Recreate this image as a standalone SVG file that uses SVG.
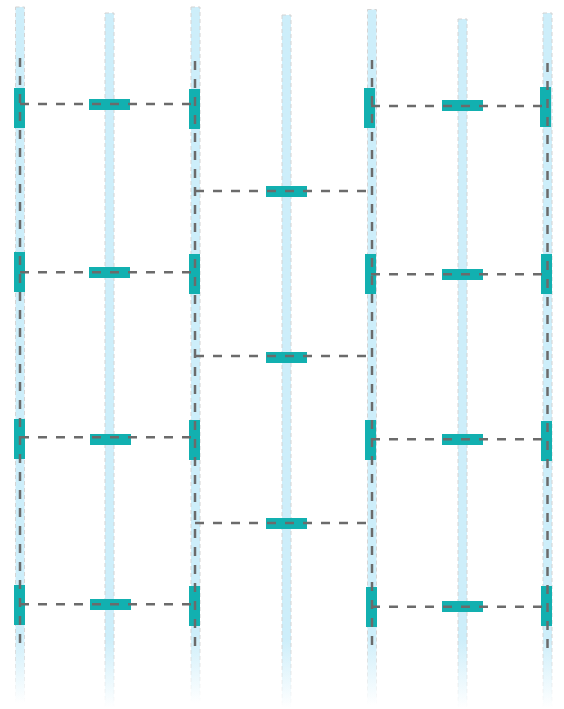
<svg xmlns="http://www.w3.org/2000/svg" width="564" height="709" viewBox="0 0 564 709">
<defs>
<linearGradient id="laneFill" x1="0" y1="0" x2="0" y2="1">
<stop offset="0" stop-color="#cdeefa" stop-opacity="1"/>
<stop offset="0.9" stop-color="#cdeefa" stop-opacity="1"/>
<stop offset="1" stop-color="#cdeefa" stop-opacity="0"/>
</linearGradient>
<linearGradient id="laneStroke" x1="0" y1="0" x2="0" y2="1">
<stop offset="0" stop-color="#d4d4d4" stop-opacity="1"/>
<stop offset="0.9" stop-color="#d4d4d4" stop-opacity="1"/>
<stop offset="1" stop-color="#d4d4d4" stop-opacity="0"/>
</linearGradient>
</defs>
<style>
.lane{fill:url(#laneFill);stroke:url(#laneStroke);stroke-width:1;stroke-dasharray:4 3}
.act{fill:#12b0b0}
.msg{fill:#12b0b0}
.conn{fill:none;stroke:#6b6b6b;stroke-width:2.5;stroke-dasharray:9 9}
</style>
<rect width="564" height="709" fill="#ffffff"/>
<g id="lanes">
<g id="lane1"><rect class="lane" x="15.5" y="7" width="9" height="696"/></g>
<g id="lane2"><rect class="lane" x="105" y="13" width="9" height="695"/></g>
<g id="lane3"><rect class="lane" x="191" y="7" width="9" height="696"/></g>
<g id="lane4"><rect class="lane" x="282" y="15" width="9" height="693"/></g>
<g id="lane5"><rect class="lane" x="367.5" y="9.5" width="9" height="695.5"/></g>
<g id="lane6"><rect class="lane" x="458" y="19" width="9" height="689"/></g>
<g id="lane7"><rect class="lane" x="543" y="13" width="9" height="695"/></g>
</g>
<g id="nodes">
<g id="a1"><rect class="act" x="14" y="88" width="11" height="40"/></g>
<g id="a2"><rect class="act" x="14" y="252" width="11" height="40"/></g>
<g id="a3"><rect class="act" x="14" y="419" width="11" height="40"/></g>
<g id="a4"><rect class="act" x="14" y="585" width="11" height="40"/></g>
<g id="b1"><rect class="act" x="189" y="89" width="11" height="40"/></g>
<g id="b2"><rect class="act" x="189" y="254" width="11" height="40"/></g>
<g id="b3"><rect class="act" x="189" y="420" width="11" height="40"/></g>
<g id="b4"><rect class="act" x="189" y="586" width="11" height="40"/></g>
<g id="c1"><rect class="act" x="364" y="88" width="11" height="40"/></g>
<g id="c2"><rect class="act" x="365" y="254" width="11" height="40"/></g>
<g id="c3"><rect class="act" x="365" y="420" width="11" height="40"/></g>
<g id="c4"><rect class="act" x="366" y="587" width="11" height="40"/></g>
<g id="d1"><rect class="act" x="540" y="87" width="11" height="40"/></g>
<g id="d2"><rect class="act" x="541" y="254" width="11" height="40"/></g>
<g id="d3"><rect class="act" x="541" y="421" width="11" height="40"/></g>
<g id="d4"><rect class="act" x="541" y="586" width="11" height="40"/></g>
<g id="m1"><rect class="msg" x="89" y="99" width="41" height="11"/></g>
<g id="m2"><rect class="msg" x="89" y="267" width="41" height="11"/></g>
<g id="m3"><rect class="msg" x="90" y="434" width="41" height="11"/></g>
<g id="m4"><rect class="msg" x="90" y="599" width="41" height="11"/></g>
<g id="m5"><rect class="msg" x="266" y="186" width="41" height="11"/></g>
<g id="m6"><rect class="msg" x="266" y="352" width="41" height="11"/></g>
<g id="m7"><rect class="msg" x="266" y="518" width="41" height="11"/></g>
<g id="m8"><rect class="msg" x="442" y="100" width="41" height="11"/></g>
<g id="m9"><rect class="msg" x="442" y="269" width="41" height="11"/></g>
<g id="m10"><rect class="msg" x="442" y="434" width="41" height="11"/></g>
<g id="m11"><rect class="msg" x="442" y="601" width="41" height="11"/></g>
</g>
<g id="connectors">
<path class="conn" d="M20,58 V647"/>
<path class="conn" d="M195,61 V650"/>
<path class="conn" d="M372,60 V648"/>
<path class="conn" d="M547.5,63 V652"/>
<path class="conn" d="M20,104 H195"/>
<path class="conn" d="M20,272.3 H195"/>
<path class="conn" d="M20,437.3 H195"/>
<path class="conn" d="M20,604.3 H195"/>
<path class="conn" d="M195,191 H372"/>
<path class="conn" d="M195,356 H371"/>
<path class="conn" d="M195,523 H372"/>
<path class="conn" d="M371,106 H547.5"/>
<path class="conn" d="M371,274.3 H547.5"/>
<path class="conn" d="M371,439.3 H547.5"/>
<path class="conn" d="M371,606.7 H547.5"/>
</g>
</svg>
